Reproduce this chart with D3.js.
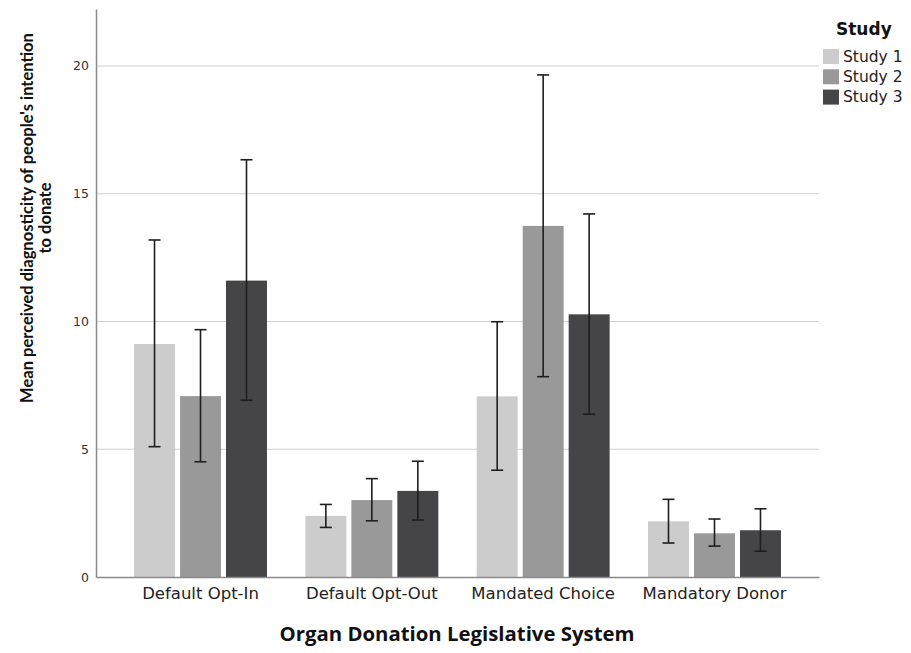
<!DOCTYPE html>
<html>
<head>
<meta charset="utf-8">
<script src="https://cdn.jsdelivr.net/npm/d3@7"></script>
<style>
  html, body { margin: 0; padding: 0; background: #fff; }
  svg { display: block; }
</style>
</head>
<body>
<svg id="chart" width="911" height="653"></svg>
<script>
// ---- Data ----
const categories = ["Default Opt-In", "Default Opt-Out", "Mandated Choice", "Mandatory Donor"];
const studies = ["Study 1", "Study 2", "Study 3"];
const study1Mean = [9.12, 2.39, 7.07, 2.18];
const study1Low  = [5.10, 1.94, 4.18, 1.33];
const study1High = [13.19, 2.84, 9.99, 3.04];
const study2Mean = [7.08, 3.01, 13.74, 1.71];
const study2Low  = [4.51, 2.20, 7.84, 1.21];
const study2High = [9.68, 3.85, 19.65, 2.27];
const study3Mean = [11.60, 3.37, 10.28, 1.83];
const study3Low  = [6.92, 2.23, 6.37, 1.01];
const study3High = [16.33, 4.53, 14.21, 2.67];
const yTicks = [0, 5, 10, 15, 20];
const colors = ["#cccccc", "#999999", "#454547"];

(function () {
const means = [study1Mean, study2Mean, study3Mean];
const lows = [study1Low, study2Low, study3Low];
const highs = [study1High, study2High, study3High];

const rows = [];
categories.forEach((c, ci) => {
  studies.forEach((s, si) => {
    rows.push({ cat: c, study: s, si, mean: means[si][ci], low: lows[si][ci], high: highs[si][ci] });
  });
});

const BASE = "'DejaVu Sans', sans-serif";

// ---- Layout ----
const svg = d3.select("#chart");
const pLeft = 96, pRight = 819, pTop = 9, pBottom = 577;

const y = d3.scaleLinear().domain([0, 22.23]).range([pBottom, pTop]);
const x0 = d3.scaleBand().domain(categories).range([pLeft, pRight]).paddingInner(0.224).paddingOuter(0.222);
const x1 = d3.scaleBand().domain(studies).range([0, x0.bandwidth()]).paddingInner(0.109).paddingOuter(0);
const color = d3.scaleOrdinal().domain(studies).range(colors);

// gridlines
svg.append("g").selectAll("line").data(yTicks.filter(d => d > 0)).join("line")
  .attr("x1", pLeft).attr("x2", pRight)
  .attr("y1", d => y(d)).attr("y2", d => y(d))
  .attr("stroke", "#cfcfcf").attr("stroke-width", 1.2);

// bars
svg.append("g").selectAll("rect").data(rows).join("rect")
  .attr("x", d => x0(d.cat) + x1(d.study))
  .attr("width", x1.bandwidth())
  .attr("y", d => y(d.mean))
  .attr("height", d => y(0) - y(d.mean))
  .attr("fill", d => color(d.study));

// error bars
const gErr = svg.append("g").attr("stroke", "#1e1e1e").attr("stroke-width", 1.6);
const cx = d => x0(d.cat) + x1(d.study) + x1.bandwidth() / 2;
gErr.selectAll("line.v").data(rows).join("line").attr("class", "v")
  .attr("x1", cx).attr("x2", cx)
  .attr("y1", d => y(d.low)).attr("y2", d => y(d.high));
gErr.selectAll("line.t").data(rows).join("line").attr("class", "t")
  .attr("x1", d => cx(d) - 6).attr("x2", d => cx(d) + 6)
  .attr("y1", d => y(d.high)).attr("y2", d => y(d.high));
gErr.selectAll("line.b").data(rows).join("line").attr("class", "b")
  .attr("x1", d => cx(d) - 6).attr("x2", d => cx(d) + 6)
  .attr("y1", d => y(d.low)).attr("y2", d => y(d.low));

// y axis
const yAxis = d3.axisLeft(y).tickValues(yTicks).tickSize(0).tickPadding(7);
const gy = svg.append("g").attr("transform", `translate(${pLeft},0)`).call(yAxis);
gy.select(".domain").attr("stroke", "#8a8a8a").attr("stroke-width", 1.5);
gy.selectAll("text").style("font-family", BASE).style("font-size", "12.5px").attr("fill", "#333");

// x axis
const xAxis = d3.axisBottom(x0).tickSize(0).tickPadding(10);
const gx = svg.append("g").attr("transform", `translate(0,${pBottom})`).call(xAxis);
gx.select(".domain").attr("stroke", "#8a8a8a").attr("stroke-width", 1.5);
gx.selectAll("text").style("font-family", BASE).style("font-size", "16.5px").attr("fill", "#222");

// axis titles
const xt = svg.append("text").attr("x", 457).attr("y", 641)
  .attr("text-anchor", "middle").attr("fill", "#111")
  .style("font-family", "'Open Sans', sans-serif").style("font-weight", "bold").style("font-size", "18px")
  .text("Organ Donation Legislative System");
const wx = xt.node().getComputedTextLength();
xt.style("font-size", (18 * 355 / wx).toFixed(2) + "px");

const yt = svg.append("text").attr("transform", "translate(0,218) rotate(-90)")
  .attr("text-anchor", "middle").attr("fill", "#111")
  .style("font-family", "'Liberation Sans Narrow', Lato, sans-serif").style("font-weight", "bold").style("font-size", "17px");
const yl1 = yt.append("tspan").attr("x", 0).attr("y", 33).text("Mean perceived diagnosticity of people's intention");
const w1 = yl1.node().getComputedTextLength();
yt.style("font-size", (17 * 370 / w1).toFixed(2) + "px");
yt.append("tspan").attr("x", 0).attr("y", 51).text("to donate");

// legend
const lg = svg.append("g").attr("transform", "translate(823,0)");
lg.append("text").attr("x", 13).attr("y", 35).attr("fill", "#111")
  .style("font-family", BASE).style("font-weight", "bold").style("font-size", "17px").text("Study");
const items = lg.selectAll("g.item").data(studies).join("g").attr("class", "item")
  .attr("transform", (d, i) => `translate(0,${49 + i * 20.3})`);
items.append("rect").attr("width", 16).attr("height", 15).attr("fill", d => color(d));
items.append("text").attr("x", 20).attr("y", 12.5).attr("fill", "#222")
  .style("font-family", BASE).style("font-size", "15.5px").text(d => d);
})();
</script>
</body>
</html>
